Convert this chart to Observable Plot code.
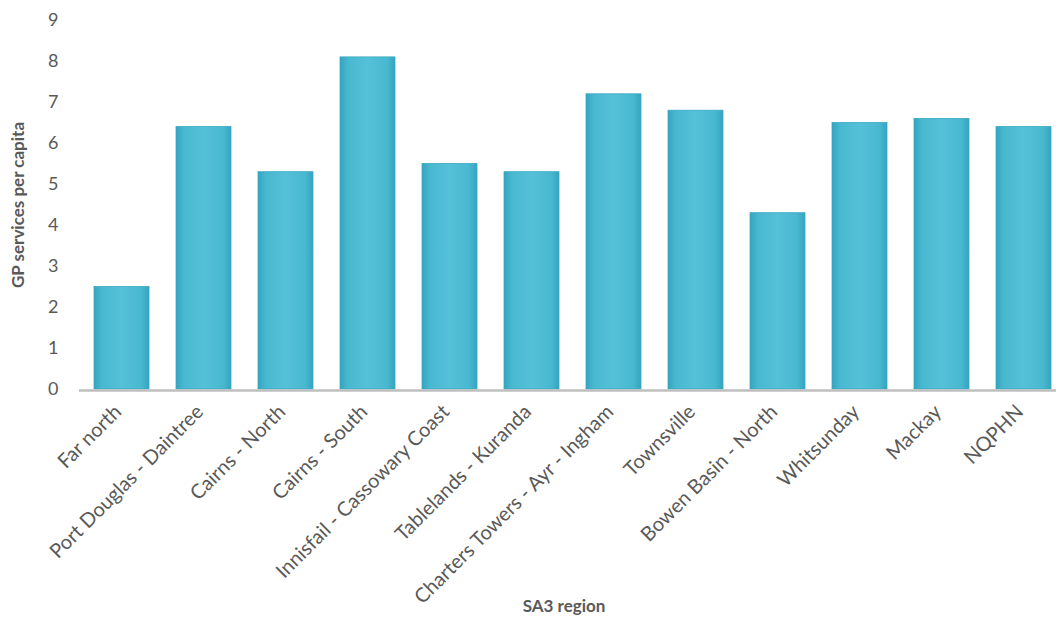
<!DOCTYPE html>
<html>
<head>
<meta charset="utf-8">
<script src="https://cdn.jsdelivr.net/npm/d3@7"></script>
<script src="https://cdn.jsdelivr.net/npm/@observablehq/plot@0.6"></script>
<style>
  html, body { margin: 0; padding: 0; background: #fff; overflow: hidden; }
  #chart svg { overflow: hidden; }
</style>
</head>
<body>
<div id="chart"></div>
<script>
// GP services per capita by SA3 region (Northern Queensland PHN)
const regions = [
  "Far north", "Port Douglas - Daintree", "Cairns - North", "Cairns - South",
  "Innisfail - Cassowary Coast", "Tablelands - Kuranda", "Charters Towers - Ayr - Ingham",
  "Townsville", "Bowen Basin - North", "Whitsunday", "Mackay", "NQPHN"
];
const servicesPerCapita = [2.5, 6.4, 5.3, 8.1, 5.5, 5.3, 7.2, 6.8, 4.3, 6.5, 6.6, 6.4];
const yTicks = [0, 1, 2, 3, 4, 5, 6, 7, 8, 9];
const xTitle = "SA3 region";
const yTitle = "GP services per capita";

const data = regions.map((region, i) => ({ region, value: servicesPerCapita[i] }));

const font = "Lato, 'Open Sans', sans-serif";
const grey = "#595959";

const chart = Plot.plot({
  width: 1056,
  height: 619,
  marginLeft: 79,
  marginRight: -10,
  marginTop: 20,
  marginBottom: 230,
  style: { fontFamily: font, color: grey, background: "#fff" },
  x: { domain: regions, paddingInner: 0.33, paddingOuter: 0.165 },
  y: { domain: [0, 9] },
  marks: [
    Plot.barY(data, { x: "region", y: "value", fill: "#4bbcd3", stroke: "#3aa8c2", strokeWidth: 0.8 }),
    Plot.ruleY([0], { stroke: "#bfbfbf", strokeWidth: 2.5, dy: 1 }),
    Plot.axisY(yTicks, { tickSize: 0, tickPadding: 21, fontSize: 18, fill: grey, label: null }),
    Plot.axisX({ tickSize: 0, tickPadding: 19, tickRotate: -45, fontSize: 20, fill: grey, label: null, dx: -4 }),
    // axis titles
    Plot.text([yTitle], {
      frameAnchor: "left", textAnchor: "middle", rotate: -90, dx: -61,
      fontSize: 17, fontWeight: "bold", fill: grey
    }),
    Plot.text([xTitle], {
      frameAnchor: "bottom", dy: 222, dx: -9, fontSize: 17, fontWeight: "bold", fill: grey
    })
  ]
});

const svg = d3.select(chart);
// soft darker edges on each bar
const grad = svg.insert("defs", ":first-child")
  .append("linearGradient").attr("id", "barGrad")
  .attr("x1", "0").attr("x2", "1").attr("y1", "0").attr("y2", "0");
[["0%", "#35a4bf"], ["14%", "#48b8d0"], ["50%", "#55c1d8"], ["86%", "#48b8d0"], ["100%", "#35a4bf"]]
  .forEach(([o, c]) => grad.append("stop").attr("offset", o).attr("stop-color", c));
svg.selectAll("g[aria-label='bar']").attr("fill", "url(#barGrad)");

document.getElementById("chart").appendChild(chart);
</script>
</body>
</html>
